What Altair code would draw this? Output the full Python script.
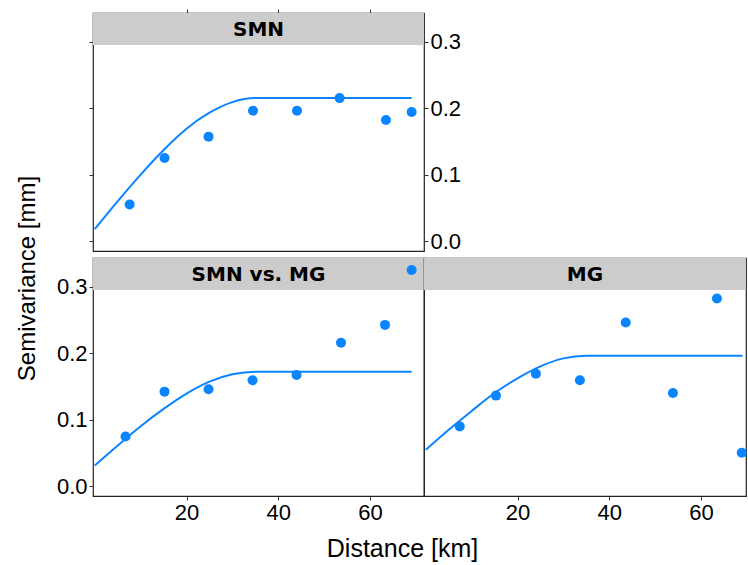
import altair as alt
import pandas as pd

# ---- data ----
lag_smn = [7.6, 15.2, 24.8, 34.5, 44.1, 53.4, 63.5, 69.1]
gam_smn = [0.055, 0.125, 0.157, 0.196, 0.196, 0.215, 0.182, 0.194]

lag_cross = [6.7, 15.2, 24.8, 34.4, 44.0, 53.7, 63.3, 69.1]
gam_cross = [0.0745, 0.142, 0.1455, 0.159, 0.167, 0.2155, 0.2424, 0.325]

lag_mg = [7.4, 15.3, 24.0, 33.6, 43.6, 53.9, 63.5, 68.9]
gam_mg = [0.0897, 0.136, 0.169, 0.159, 0.246, 0.140, 0.282, 0.050]

# fitted model curves
fit_dist = [0, 5, 10, 15, 20, 25, 30, 35, 69.1]
fit_smn = [0.018, 0.060, 0.100, 0.137, 0.169, 0.193, 0.209, 0.215, 0.215]
fit_cross = [0.031, 0.061, 0.090, 0.116, 0.139, 0.157, 0.168, 0.172, 0.172]
fit_mg = [0.0545, 0.0845, 0.113, 0.140, 0.162, 0.180, 0.192, 0.196, 0.196]

x_ticks = [20, 40, 60]
y_ticks = [0.0, 0.1, 0.2, 0.3]

BLUE = "#0A84FF"
STRIP = "#CCCCCC"
TICKFONT = "Liberation Sans"
YDOM = [-0.015, 0.343]
H = 238
W_LEFT = 331
W_RIGHT = 322
PX_PER_KM = W_LEFT / 72.2
XDOM_L = [-0.4, 71.8]
XDOM_R = [-0.4, -0.4 + W_RIGHT / PX_PER_KM]


def panel(name, lags, gams, fit, width, xdom, xaxis, yaxes):
    pts = pd.DataFrame({"d": lags, "g": gams})
    ln = pd.DataFrame({"d": fit_dist, "g": fit})
    xs = alt.Scale(domain=xdom, nice=False, zero=False)
    ys = alt.Scale(domain=YDOM, nice=False, zero=False)

    strip = alt.Chart(pd.DataFrame({"k": [1]})).mark_rect(color=STRIP).encode(
        x=alt.value(0), x2=alt.value(width), y=alt.value(0), y2=alt.value(32)
    )
    label = alt.Chart(pd.DataFrame({"lab": [name]})).mark_text(
        font="DejaVu Sans", fontWeight="bold", fontSize=20, color="black",
        baseline="middle", align="center"
    ).encode(x=alt.value(width / 2), y=alt.value(16.5), text="lab:N")

    line = alt.Chart(ln).mark_line(color=BLUE, strokeWidth=2, interpolate="monotone").encode(
        x=alt.X("d:Q", scale=xs, axis=xaxis),
        y=alt.Y("g:Q", scale=ys, axis=yaxes[0]),
    )
    points = alt.Chart(pts).mark_circle(color=BLUE, size=100, opacity=1).encode(
        x=alt.X("d:Q", scale=xs, axis=xaxis),
        y=alt.Y("g:Q", scale=ys, axis=yaxes[1]),
    )
    ch = alt.layer(strip, label, line, points).properties(width=width, height=H)
    if yaxes[0] is not None and yaxes[1] is not None and yaxes[0] is not yaxes[1]:
        ch = ch.resolve_axis(y="independent")
    return ch


common = dict(domain=False, grid=False, tickColor="#333333", tickSize=4,
              labelFont=TICKFONT, labelFontSize=22, labelColor="black")

# top-left (SMN): ticks on top, ticks left, labels right
x_top = alt.Axis(orient="top", values=x_ticks, labels=False, title=None, **common)
y_left_ticks = alt.Axis(orient="left", values=y_ticks, labels=False, title=None, **common)
y_right = alt.Axis(orient="right", values=y_ticks, format=".1f", title=None, labelPadding=2, **common)

top_left = panel("SMN", lag_smn, gam_smn, fit_smn, W_LEFT, XDOM_L, x_top, (y_left_ticks, y_right))

# bottom-left (SMN vs. MG)
x_bl = alt.Axis(orient="bottom", values=x_ticks, labelPadding=2,
                title="Distance [km]", titleFont=TICKFONT, titleFontSize=25,
                titleFontWeight="normal", titleColor="black",
                titleX=309, titleY=52, titleAlign="center", titleBaseline="middle",
                **common)
y_bl = alt.Axis(orient="left", values=y_ticks, format=".1f", labelPadding=2,
                title="Semivariance [mm]", titleFont=TICKFONT, titleFontSize=24,
                titleFontWeight="normal", titleColor="black",
                titleX=-66, titleY=20, titleAngle=-90, titleAlign="center",
                titleBaseline="middle", **common)
bottom_left = panel("SMN vs. MG", lag_cross, gam_cross, fit_cross, W_LEFT, XDOM_L, x_bl, (y_bl, y_bl))

# bottom-right (MG)
x_br = alt.Axis(orient="bottom", values=x_ticks, labelPadding=2, title=None, **common)
bottom_right = panel("MG", lag_mg, gam_mg, fit_mg, W_RIGHT, XDOM_R, x_br, (None, None))

chart = alt.vconcat(
    top_left,
    alt.hconcat(bottom_left, bottom_right, spacing=0, bounds="flush"),
    spacing=7,
    bounds="flush",
).properties(
    padding={"left": 14, "top": 7, "right": 0, "bottom": 0},
    background="white",
).configure_view(
    stroke="#222222", strokeWidth=1.2
)

chart.save("out.html", embed_options={"renderer": "svg", "actions": False})
